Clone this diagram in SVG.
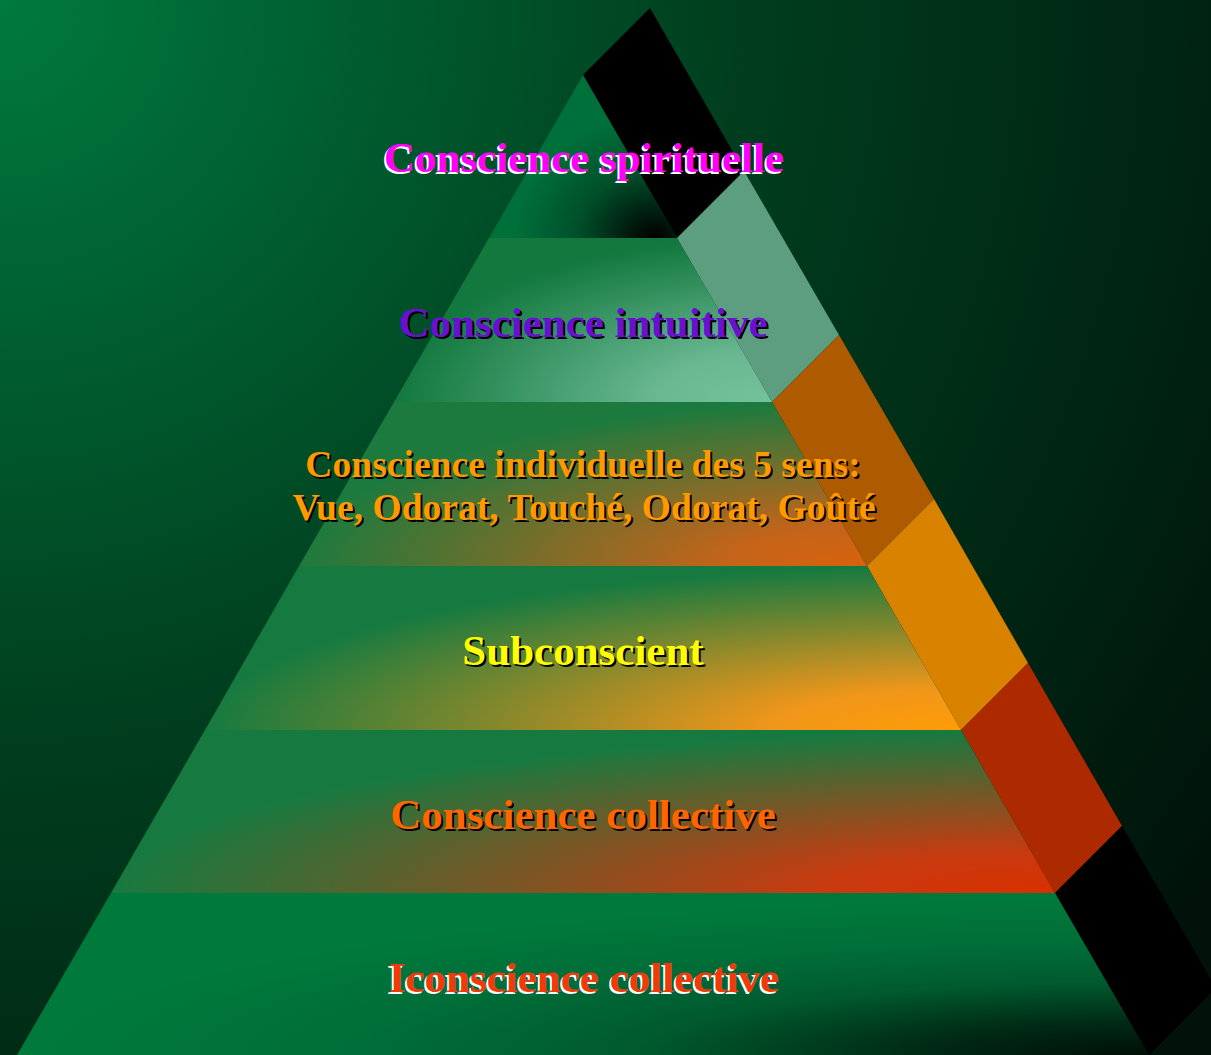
<svg xmlns="http://www.w3.org/2000/svg" width="1211" height="1055" viewBox="0 0 1211 1055">
<defs>
<radialGradient id="bg" gradientUnits="userSpaceOnUse" cx="0" cy="0" r="1500">
<stop offset="0" stop-color="#007a3e"/>
<stop offset="0.5" stop-color="#003d1e"/>
<stop offset="1" stop-color="#00120a"/>
</radialGradient>
<radialGradient id="g1" cx="0.88" cy="1" r="0.75" fx="0.88" fy="1">
<stop offset="0" stop-color="#000000"/>
<stop offset="0.55" stop-color="#00502a"/>
<stop offset="1" stop-color="#00703a"/>
</radialGradient>
<radialGradient id="g2" cx="1" cy="1" r="1" fx="1" fy="1">
<stop offset="0" stop-color="#74c29c"/>
<stop offset="0.3" stop-color="#6ab892"/>
<stop offset="1" stop-color="#12783e"/>
</radialGradient>
<radialGradient id="g3" cx="1" cy="1" r="1" fx="1" fy="1">
<stop offset="0" stop-color="#d8620c"/>
<stop offset="0.25" stop-color="#c4641a"/>
<stop offset="1" stop-color="#1c7a3e"/>
</radialGradient>
<radialGradient id="g4" cx="1" cy="1" r="1" fx="1" fy="1">
<stop offset="0" stop-color="#ff9c06"/>
<stop offset="0.25" stop-color="#f0961a"/>
<stop offset="1" stop-color="#167a40"/>
</radialGradient>
<radialGradient id="g5" cx="1" cy="1" r="1" fx="1" fy="1">
<stop offset="0" stop-color="#d83000"/>
<stop offset="0.25" stop-color="#c83a10"/>
<stop offset="1" stop-color="#167a40"/>
</radialGradient>
<radialGradient id="g6" cx="1" cy="1" r="1" fx="1" fy="1">
<stop offset="0" stop-color="#000f06"/>
<stop offset="0.2" stop-color="#002a15"/>
<stop offset="0.45" stop-color="#005a2e"/>
<stop offset="0.7" stop-color="#006e38"/>
<stop offset="1" stop-color="#007a3c"/>
</radialGradient>
</defs>
<style>
.t{font-family:"Liberation Serif","Times New Roman",serif;font-weight:bold;text-anchor:middle;font-size:43px}
.s{font-size:37.6px}
.dk{fill:#000000}
.wh{fill:#ffffff}
</style>
<rect x="0" y="0" width="1211" height="1055" fill="url(#bg)"/>
<g id="strip">
<polygon points="583,75 650,8 744,171 677,238" fill="#000000"/>
<polygon points="677,238 744,171 839,335 772,402" fill="#5e9e80"/>
<polygon points="772,402 839,335 934,499 867,566" fill="#ad5a00"/>
<polygon points="867,566 934,499 1028,663 961,730" fill="#d88200"/>
<polygon points="961,730 1028,663 1122,826 1055,893" fill="#ad2a00"/>
<polygon points="1055,893 1122,826 1216,988 1149,1055" fill="#000000"/>
</g>
<g id="layer1">
<polygon points="583,75 677,238 489,238" fill="url(#g1)"/>
<text class="t wh" x="582" y="174">Conscience spirituelle</text>
<text class="t" x="584" y="172" fill="#ff00ff">Conscience spirituelle</text>
</g>
<g id="layer2">
<polygon points="489,238 677,238 772,402 394,402" fill="url(#g2)"/>
<text class="t dk" x="585" y="339">Conscience intuitive</text>
<text class="t" x="583" y="337" fill="#6a10d0">Conscience intuitive</text>
</g>
<g id="layer3">
<polygon points="394,402 772,402 867,566 299,566" fill="url(#g3)"/>
<text class="t s dk" x="585" y="479">Conscience individuelle des 5 sens:</text>
<text class="t s" x="583" y="477" fill="#ff9900">Conscience individuelle des 5 sens:</text>
<text class="t s dk" x="586" y="522">Vue, Odorat, Touché, Odorat, Goûté</text>
<text class="t s" x="584" y="520" fill="#ff9900">Vue, Odorat, Touché, Odorat, Goûté</text>
</g>
<g id="layer4">
<polygon points="299,566 867,566 961,730 205,730" fill="url(#g4)"/>
<text class="t dk" x="585" y="667">Subconscient</text>
<text class="t" x="583" y="665" fill="#ffff00">Subconscient</text>
</g>
<g id="layer5">
<polygon points="205,730 961,730 1055,893 111,893" fill="url(#g5)"/>
<text class="t dk" x="585" y="831">Conscience collective</text>
<text class="t" x="583" y="829" fill="#ff6600">Conscience collective</text>
</g>
<g id="layer6">
<polygon points="111,893 1055,893 1149,1055 17,1055" fill="url(#g6)"/>
<text class="t wh" x="582" y="994">Iconscience collective</text>
<text class="t" x="584" y="992" fill="#f03a0c">Iconscience collective</text>
</g>
</svg>
